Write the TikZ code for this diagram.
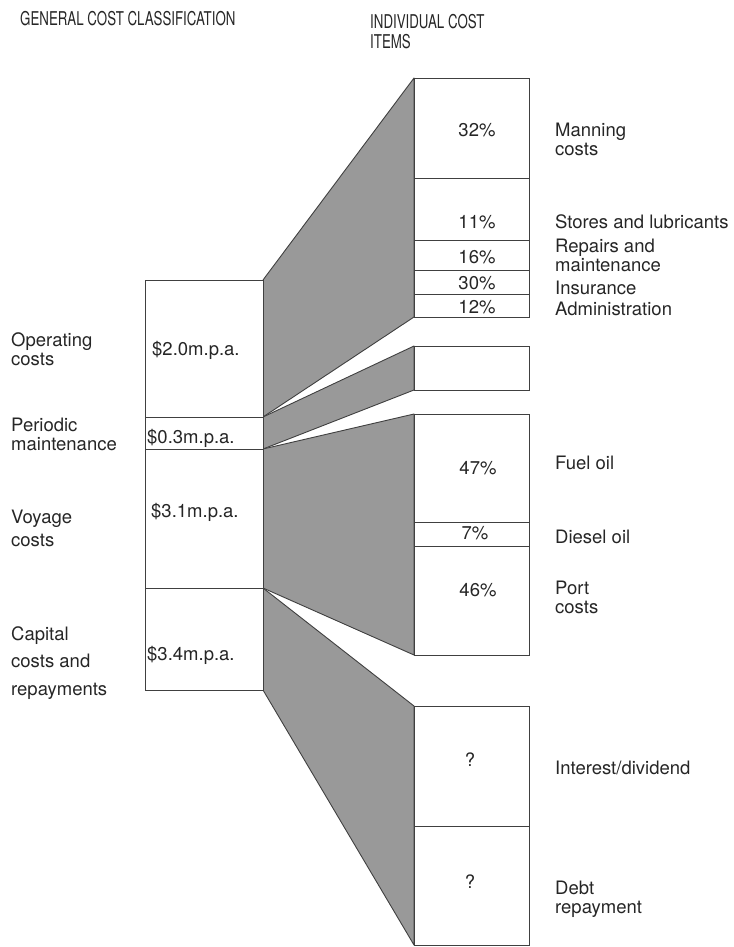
\documentclass[tikz,border=0pt]{standalone}
\usepackage{fontspec}
\setmainfont{TeX Gyre Heros}
\usepackage{graphicx}
\usetikzlibrary{positioning}
\tikzset{
    wedge/.style={
        fill=black!40,
        draw=black!75,
        line width=0.9pt,
        line join=round
    },
    costbox/.style={
        draw=black!75,
        fill=white,
        line width=0.9pt
    },
    heading/.style={
        font=\fontsize{19}{20}\selectfont,
        anchor=west,
        align=left,
        inner sep=0pt,
        text=black!85
    },
    share/.style={
        font=\fontsize{18.5}{19}\selectfont,
        inner sep=0pt,
        text=black!85
    },
    item/.style={
        font=\fontsize{18.5}{19}\selectfont,
        anchor=west,
        align=left,
        inner sep=0pt,
        text=black!85
    }
}
\newcommand{\narrow}[1]{\scalebox{0.70}[1]{#1}}

\begin{document}
\begin{tikzpicture}[x=1pt, y=-1pt]
    \useasboundingbox (0,0) rectangle (733,947);
    % shaded fans from the general boxes to the item boxes
    \draw[wedge] (263,280) -- (414,78) -- (414,317) -- (263,417) -- cycle;
    \draw[wedge] (263,417) -- (414,346) -- (414,390) -- (263,449) -- cycle;
    \draw[wedge] (263,449) -- (414,414) -- (414,655) -- (263,588) -- cycle;
    \draw[wedge] (263,588) -- (414,706) -- (414,945) -- (263,690) -- cycle;
    % general cost classification column
    \foreach \top/\bot in {280/417, 417/449, 449/588, 588/690}
        \draw[costbox] (145,\top) rectangle (263,\bot);
    % individual cost items column
    \foreach \top/\bot in {78/178, 178/240, 240/270, 270/294, 294/317,
                           346/390, 414/522, 522/546, 546/655, 706/826, 826/945}
        \draw[costbox] (414,\top) rectangle (529,\bot);

    % headings
    \node[heading] (genHead) at (20,19) {\narrow{GENERAL COST CLASSIFICATION}};
    \node[heading] (itemHead) at (370,32) {\narrow{INDIVIDUAL COST}\\\narrow{ITEMS}};

    % left labels
    \node[item] (opLabel) at (11,349) {Operating\\costs};
    \node[item] (perLabel) at (11,434.5) {Periodic\\maintenance};
    \node[item, font=\fontsize{18.5}{23}\selectfont] (voyLabel) at (11,528) {Voyage\\costs};
    \node[item, font=\fontsize{18.5}{27.5}\selectfont] (capLabel) at (11,663) {Capital\\costs and\\repayments};

    % amounts
    \node[share, anchor=west] (opAmt) at (152,350) {\$2.0m.p.a.};
    \node[share, anchor=west] (perAmt) at (147,438) {\$0.3m.p.a.};
    \node[share, anchor=west] (voyAmt) at (151,512) {\$3.1m.p.a.};
    \node[share, anchor=west] (capAmt) at (147,655) {\$3.4m.p.a.};

    % shares
    \node[share] (manPct) at (477,130) {32\%};
    \node[share] (storePct) at (477,222) {11\%};
    \node[share] (repPct) at (477,257) {16\%};
    \node[share] (insPct) at (477,283) {30\%};
    \node[share] (admPct) at (477,307) {12\%};
    \node[share] (fuelPct) at (478,468) {47\%};
    \node[share] (dieselPct) at (475,533) {7\%};
    \node[share] (portPct) at (478,590) {46\%};
    \node[share] (intPct) at (470,760) {?};
    \node[share] (debtPct) at (470,882) {?};

    % item labels
    \node[item] (manLabel) at (555,139) {Manning\\costs};
    \node[item] (storeLabel) at (555,222) {Stores and lubricants};
    \node[item] (repLabel) at (555,255) {Repairs and\\maintenance};
    \node[item] (insLabel) at (555,288) {Insurance};
    \node[item] (admLabel) at (555,309) {Administration};
    \node[item] (fuelLabel) at (555,463) {Fuel oil};
    \node[item] (dieselLabel) at (555,537) {Diesel oil};
    \node[item] (portLabel) at (555,597.5) {Port\\costs};
    \node[item] (intLabel) at (555,768) {Interest/dividend};
    \node[item] (debtLabel) at (555,899) {Debt\\repayment};
\end{tikzpicture}
\end{document}
